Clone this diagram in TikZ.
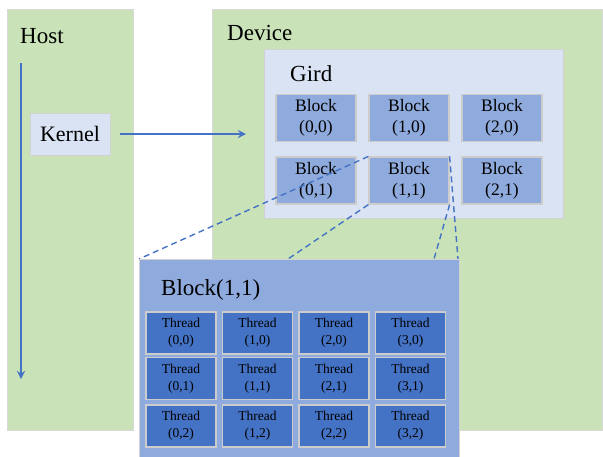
\documentclass[tikz,border=0pt]{standalone}
\usepackage{fontspec}
\setmainfont{Liberation Serif}
\usetikzlibrary{arrows}

\definecolor{panelgreen}{HTML}{C9E2B7}
\definecolor{lavender}{HTML}{DAE3F3}
\definecolor{blockblue}{HTML}{8FAADC}
\definecolor{threadblue}{HTML}{4472C4}

\tikzset{
  panel/.style={draw=gray!30, fill=panelgreen, line width=1pt, inner sep=0pt},
  title/.style={inner sep=0pt, font=\fontsize{23}{27}\selectfont},
  lightbox/.style={draw=gray!35, fill=lavender, line width=1pt, inner sep=0pt},
  blockbox/.style={draw=gray!40, fill=blockblue, line width=1.2pt, inner sep=0pt,
    minimum width=80pt, minimum height=47pt, align=center,
    font=\fontsize{17.5}{21}\selectfont},
  threadbox/.style={draw=gray!40, fill=threadblue, line width=1.2pt, inner sep=0pt,
    minimum width=70pt, minimum height=42pt, align=center,
    font=\fontsize{13.5}{17}\selectfont},
  flow/.style={->, draw=threadblue, line width=2.6pt},
  zoomline/.style={dashed, draw=threadblue, line width=1.4pt, dash pattern=on 6pt off 4pt}
}

\begin{document}
\begin{tikzpicture}[>=stealth, x=1pt, y=-1pt]
  \useasboundingbox (0,0) rectangle (603,456);

  % Host and Device
  \node[panel, minimum width=126pt, minimum height=421pt] (host) at (70,219.5) {};
  \node[panel, minimum width=390pt, minimum height=421pt] (device) at (407,219.5) {};
  \node[title, anchor=west] (hostlbl) at (20,36) {Host};
  \node[title, anchor=west] (devlbl) at (227,33) {Device};

  % Kernel launch
  \coordinate (tstart) at (21,63);
  \coordinate (tend) at (21,379);
  \draw[flow] (tstart) -- (tend);
  \node[lightbox, minimum width=80pt, minimum height=42pt, font=\fontsize{22}{26}\selectfont] (kernel) at (70,134) {Kernel};
  \coordinate (kend) at (246,134);
  \draw[flow, shorten <=9pt] (kernel.east) -- (kend);

  % Grid of blocks
  \node[lightbox, minimum width=299pt, minimum height=169pt] (grid) at (413.5,133.5) {};
  \node[title, anchor=west] (gridlbl) at (290,74) {Gird};
  \foreach \i/\x in {0/316,1/409,2/502}
    \foreach \j/\y in {0/118,1/180.5}
      \node[blockbox] (b\i\j) at (\x,\y) {Block\\(\i,\j)};

  % zoom lines
  \coordinate (k1) at (139,259);
  \coordinate (k2) at (288,259);
  \coordinate (k3) at (434,259);
  \coordinate (k4) at (458,259);
  \draw[zoomline] (b11.north west) -- (k1);
  \draw[zoomline] (b11.south west) -- (k2);
  \draw[zoomline] (b11.south east) -- (k3);
  \draw[zoomline] (b11.north east) -- (k4);

  % Block(1,1) with its threads
  \node[draw=gray!35, fill=blockblue, line width=1pt, inner sep=0pt,
        minimum width=320pt, minimum height=200pt] (blk) at (299,359) {};
  \node[title, anchor=west] (blklbl) at (161,290) {Block(1,1)};
  \foreach \i/\x in {0/181,1/257.5,2/334,3/410.5}
    \foreach \j/\y in {0/333,1/378.5,2/426}
      \node[threadbox] (t\i\j) at (\x,\y) {Thread\\(\i,\j)};
\end{tikzpicture}
\end{document}
